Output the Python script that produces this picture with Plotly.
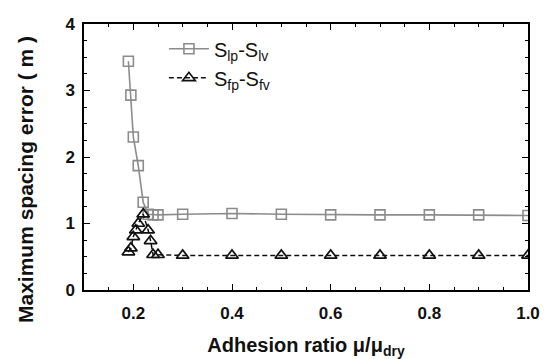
import plotly.graph_objects as go

# Adhesion ratio values (mu / mu_dry)
x_lp = [0.19, 0.195, 0.2, 0.21, 0.22, 0.23, 0.24, 0.25, 0.3, 0.4, 0.5, 0.6, 0.7, 0.8, 0.9, 1.0]
# Maximum spacing error S_lp - S_lv (m)
err_lp = [3.44, 2.93, 2.30, 1.87, 1.32, 1.14, 1.13, 1.13, 1.14, 1.15, 1.14, 1.13, 1.13, 1.13, 1.13, 1.12]

x_fp = [0.19, 0.195, 0.2, 0.205, 0.21, 0.22, 0.23, 0.235, 0.24, 0.25, 0.3, 0.4, 0.5, 0.6, 0.7, 0.8, 0.9, 1.0]
# Maximum spacing error S_fp - S_fv (m)
err_fp = [0.57, 0.63, 0.80, 0.90, 1.00, 1.14, 0.90, 0.74, 0.53, 0.53, 0.52, 0.52, 0.52, 0.52, 0.52, 0.52, 0.52, 0.52]

x_ticks = [0.2, 0.4, 0.6, 0.8, 1.0]
x_tick_text = ["0.2", "0.4", "0.6", "0.8", "1.0"]
y_ticks = [0, 1, 2, 3, 4]

font_family = "Liberation Sans, Arial, sans-serif"

fig = go.Figure()
fig.add_trace(go.Scatter(
    x=x_lp, y=err_lp, mode="lines+markers",
    name="S<sub>lp</sub>-S<sub>lv</sub>",
    line=dict(color="#8c8c8c", width=1.6),
    marker=dict(symbol="square-open", size=10, color="#8c8c8c", line=dict(width=1.6)),
))
fig.add_trace(go.Scatter(
    x=x_fp, y=err_fp, mode="lines+markers",
    name="S<sub>fp</sub>-S<sub>fv</sub>",
    line=dict(color="#111111", width=1.5, dash="5px,3px"),
    marker=dict(symbol="triangle-up-open", size=11, color="#111111", line=dict(width=1.7)),
))

axis_common = dict(
    showline=True, linecolor="black", linewidth=1.5, mirror="allticks",
    ticks="inside", ticklen=6, tickwidth=1.3, tickcolor="black",
    showgrid=False, zeroline=False, automargin=False,
    tickfont=dict(family=font_family, size=17, color="#111111", weight="bold"),
)

fig.update_xaxes(
    range=[0.1, 1.0], tickvals=x_ticks, ticktext=x_tick_text,
    ticklabelstandoff=7,
    minor=dict(dtick=0.05, tick0=0.1, ticks="inside", ticklen=3, tickwidth=1, tickcolor="black"),
    title=dict(text="<b>Adhesion ratio μ/μ<sub>dry</sub></b>",
               font=dict(family=font_family, size=20, color="#111111"), standoff=18),
    **axis_common,
)
fig.update_yaxes(
    range=[0, 4], tickvals=y_ticks, ticklabelstandoff=4,
    minor=dict(dtick=0.25, tick0=0, ticks="inside", ticklen=3, tickwidth=1, tickcolor="black"),
    **axis_common,
)

fig.add_annotation(
    text="<b>Maximum spacing error ( m )</b>", textangle=-90,
    xref="paper", yref="paper", x=-0.133, y=0.417, xanchor="center", yanchor="middle",
    showarrow=False, font=dict(family=font_family, size=21, color="#111111"),
)

fig.update_layout(
    width=552, height=359,
    margin=dict(l=84, r=24, t=24, b=69, autoexpand=False),
    paper_bgcolor="white", plot_bgcolor="white",
    showlegend=True,
    legend=dict(
        x=0.18, y=0.98, xanchor="left", yanchor="top",
        bgcolor="rgba(0,0,0,0)", borderwidth=0,
        font=dict(family=font_family, size=20, color="#111111"),
        tracegroupgap=0, itemwidth=40,
    ),
)

fig.write_html("out.html")
